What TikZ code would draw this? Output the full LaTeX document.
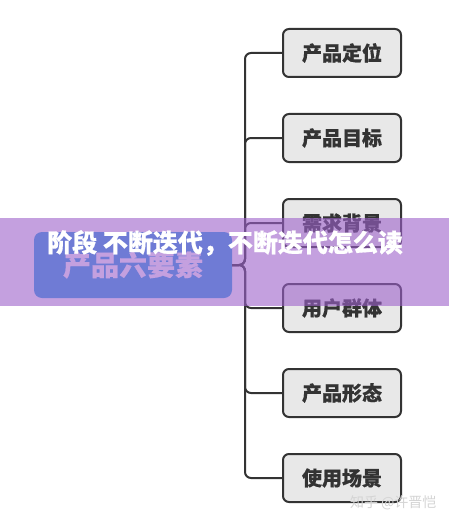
\documentclass[tikz,border=0pt]{standalone}
\usepackage{fontspec}
\newfontfamily\cjk{Noto Sans CJK SC}
\newfontfamily\cjkheavy{Noto Sans CJK SC}[BoldFeatures={FakeBold=0.6}]
\usetikzlibrary{positioning}
\definecolor{boxgray}{RGB}{232,232,232}
\definecolor{edge}{RGB}{51,51,51}
\definecolor{rootblue}{RGB}{42,162,230}
\definecolor{bandviolet}{RGB}{157,97,203}
\definecolor{wmgray}{RGB}{212,212,212}
\tikzset{
  leaf/.style={draw=edge, line width=2pt, fill=boxgray, rounded corners=6pt,
    minimum width=118pt, minimum height=48pt, inner sep=0pt,
    font=\cjkheavy\bfseries\fontsize{20}{23}\selectfont, text=edge},
  rootbox/.style={fill=rootblue, rounded corners=8pt, minimum width=198pt,
    minimum height=66pt, inner sep=0pt, font=\cjkheavy\bfseries\fontsize{28}{32}\selectfont, text=white},
  conn/.style={draw=edge, line width=2pt, rounded corners=6pt},
  x=1pt, y=1pt
}
\begin{document}
\begin{tikzpicture}
\useasboundingbox[fill=white] (0,0) rectangle (449,-524);
\node[rootbox] (root) at (133,-265) {产品六要素};
\node[leaf] (a) at (342,-53) {产品定位};
\node[leaf] (b) at (342,-138) {产品目标};
\node[leaf] (c) at (342,-223) {需求背景};
\node[leaf] (d) at (342,-308) {用户群体};
\node[leaf] (e) at (342,-393) {产品形态};
\node[leaf] (f) at (342,-478) {使用场景};
\coordinate (trunk) at (245,-265);
\foreach \n in {a,b,c,d,e,f}{
  \draw[conn] (root.east) -- (trunk) |- (\n.west);
}
\fill[bandviolet, opacity=0.6] (0,-218) rectangle (449,-306);
\node[font=\cjkheavy\bfseries\fontsize{25}{28}\selectfont, text=white] (band) at (225,-243) {阶段 不断迭代，不断迭代怎么读};
\node[font=\cjk\fontsize{14}{16}\selectfont, text=wmgray, anchor=east] (wm) at (440,-503) {知乎 @许晋恺};
\end{tikzpicture}
\end{document}
